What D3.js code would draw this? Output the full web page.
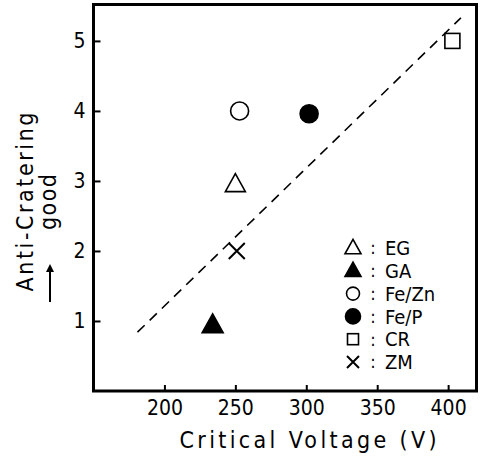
<!DOCTYPE html>
<html><head><meta charset="utf-8">
<script src="https://cdn.jsdelivr.net/npm/d3@7"></script>
<style>
html,body{margin:0;padding:0;background:#fff;}
svg{display:block;}
text{font-family:"DejaVu Sans Condensed","DejaVu Sans",sans-serif;fill:#000;}
</style></head>
<body>
<script>
// ---- data ----
const labels  = ["EG", "GA", "Fe/Zn", "Fe/P", "CR", "ZM"];
const symbols = ["triangle-open", "triangle", "circle-open", "circle", "square-open", "cross"];
const voltage = [250, 234, 253, 302, 403, 251];
const rating  = [2.95, 0.94, 4.0, 3.96, 5.0, 2.0];
const fitLineX = [181, 409];
const fitLineY = [0.84, 5.33];
const xTicks = [200, 250, 300, 350, 400];
const yTicks = [1, 2, 3, 4, 5];

const W = 481, H = 461;
const svg = d3.select("body").append("svg").attr("width", W).attr("height", H);

const x = d3.scaleLinear().domain([150, 420]).range([93.5, 476.5]);
const y = d3.scaleLinear().domain([0, 5.52]).range([391, 4.5]);

// frame
svg.append("rect")
  .attr("x", x(150)).attr("y", y(5.52))
  .attr("width", x(420) - x(150)).attr("height", y(0) - y(5.52))
  .attr("fill", "none").attr("stroke", "#000").attr("stroke-width", 3);

// axes (ticks inward)
const xAxis = d3.axisBottom(x).tickValues(xTicks).tickFormat(d3.format("d"))
  .tickSizeInner(-6).tickSizeOuter(0).tickPadding(14);
const gx = svg.append("g").attr("transform", `translate(0,${y(0)})`).call(xAxis);
gx.select(".domain").remove();
gx.selectAll(".tick line").attr("stroke", "#000").attr("stroke-width", 2);
gx.selectAll(".tick text").attr("font-size", 21).attr("dy", "0.71em").attr("y", 9);

const yAxis = d3.axisLeft(y).tickValues(yTicks).tickFormat(d3.format("d"))
  .tickSizeInner(-7).tickSizeOuter(0).tickPadding(8);
const gy = svg.append("g").attr("transform", `translate(${x(150)},0)`).call(yAxis);
gy.select(".domain").remove();
gy.selectAll(".tick line").attr("stroke", "#000").attr("stroke-width", 2);
gy.selectAll(".tick text").attr("font-size", 21).attr("x", -8);

// dashed fit line
svg.append("line")
  .attr("x1", x(fitLineX[0])).attr("y1", y(fitLineY[0]))
  .attr("x2", x(fitLineX[1])).attr("y2", y(fitLineY[1]))
  .attr("stroke", "#000").attr("stroke-width", 1.6).attr("stroke-dasharray", "10,7");

// symbol drawer
function drawSym(g, type, cx, cy, s) {
  const sw = 1.6;
  if (type.startsWith("triangle")) {
    const h = s * 0.9, w = s;
    g.append("path")
      .attr("d", `M${cx},${cy - h * 0.6}L${cx + w / 2},${cy + h * 0.4}L${cx - w / 2},${cy + h * 0.4}Z`)
      .attr("fill", type === "triangle" ? "#000" : "none")
      .attr("stroke", "#000").attr("stroke-width", sw).attr("stroke-linejoin", "miter");
  } else if (type.startsWith("circle")) {
    g.append("circle").attr("cx", cx).attr("cy", cy).attr("r", s / 2)
      .attr("fill", type === "circle" ? "#000" : "none")
      .attr("stroke", "#000").attr("stroke-width", sw);
  } else if (type.startsWith("square")) {
    g.append("rect").attr("x", cx - s / 2).attr("y", cy - s / 2).attr("width", s).attr("height", s)
      .attr("fill", "none").attr("stroke", "#000").attr("stroke-width", sw);
  } else if (type === "cross") {
    const r = s / 2;
    g.append("path")
      .attr("d", `M${cx - r},${cy - r}L${cx + r},${cy + r}M${cx + r},${cy - r}L${cx - r},${cy + r}`)
      .attr("stroke", "#000").attr("stroke-width", 2);
  }
}

const sizes = {"triangle-open": 20, "triangle": 21, "circle-open": 18, "circle": 18, "square-open": 15, "cross": 16};
const gp = svg.append("g");
labels.forEach((l, i) => {
  drawSym(gp, symbols[i], x(voltage[i]), y(rating[i]), sizes[symbols[i]]);
});

// legend
const legSizes = {"triangle-open": 16, "triangle": 16, "circle-open": 13, "circle": 15, "square-open": 11, "cross": 12};
const lg = svg.append("g");
labels.forEach((l, i) => {
  const cy = 248 + i * 22.8;
  drawSym(lg, symbols[i], 353, cy, legSizes[symbols[i]]);
  lg.append("text").attr("x", 373).attr("y", cy).attr("dy", "0.35em")
    .attr("text-anchor", "middle").attr("font-size", 18).text(":");
  lg.append("text").attr("x", 385).attr("y", cy).attr("dy", "0.36em")
    .attr("font-size", 20).text(l);
});

// axis titles
svg.append("text").attr("x", 308).attr("y", 448).attr("text-anchor", "middle")
  .attr("font-size", 23).attr("textLength", 257).attr("lengthAdjust", "spacing")
  .text("Critical Voltage (V)");

svg.append("text").attr("transform", "translate(33,202) rotate(-90)")
  .attr("text-anchor", "middle").attr("font-size", 23)
  .attr("textLength", 179).attr("lengthAdjust", "spacing")
  .text("Anti-Cratering");

svg.append("text").attr("transform", "translate(56,202) rotate(-90)")
  .attr("text-anchor", "middle").attr("font-size", 23)
  .attr("textLength", 56).attr("lengthAdjust", "spacing")
  .text("good");

// arrow
svg.append("defs").append("marker").attr("id", "ah")
  .attr("viewBox", "0 0 10 10").attr("refX", 5).attr("refY", 5)
  .attr("markerWidth", 4).attr("markerHeight", 4).attr("orient", "auto")
  .append("path").attr("d", "M0,0L10,5L0,10Z").attr("fill", "#000");
svg.append("line").attr("x1", 50).attr("y1", 302).attr("x2", 50).attr("y2", 268)
  .attr("stroke", "#000").attr("stroke-width", 2).attr("marker-end", "url(#ah)");
</script>
</body></html>
